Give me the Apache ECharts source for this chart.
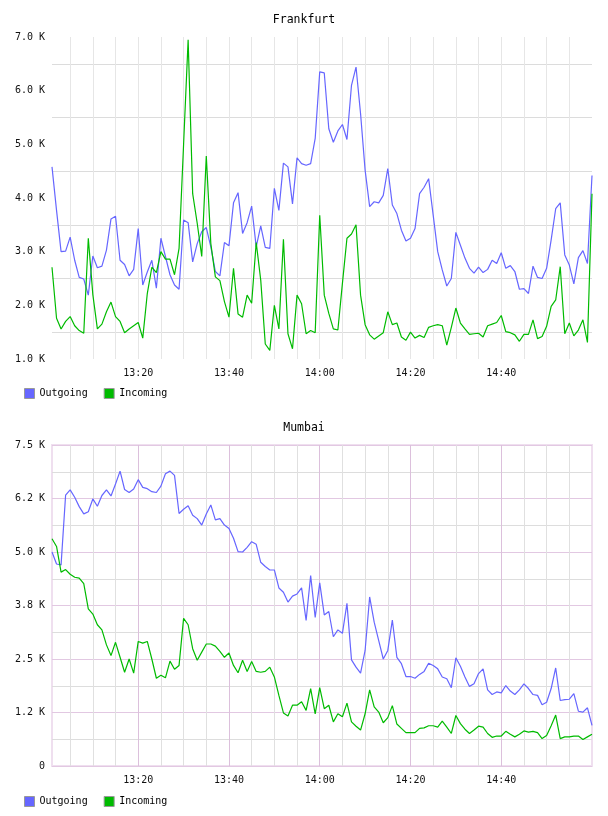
<!DOCTYPE html>
<html>
<head>
<meta charset="utf-8">
<script src="https://cdn.jsdelivr.net/npm/echarts@6.0.0/dist/echarts.min.js"></script>
<style>
  html, body { margin: 0; padding: 0; background: #fff; }
  .chart { width: 608px; height: 408px; }
</style>
</head>
<body>
<div id="frankfurt" class="chart"></div>
<div id="mumbai" class="chart"></div>
<script>
// one point per minute, 13:01 .. 15:00
var firstMinute = 13 * 60 + 1;
var pointCount = 120;
var xLabels = ['13:20', '13:40', '14:00', '14:20', '14:40'];

var frankfurtYLabels = ['1.0 K', '2.0 K', '3.0 K', '4.0 K', '5.0 K', '6.0 K', '7.0 K'];
var mumbaiYLabels = ['0', '1.2 K', '2.5 K', '3.8 K', '5.0 K', '6.2 K', '7.5 K'];

var frankfurtOut = [
  4580, 3770, 3000, 3010, 3270, 2840, 2520, 2490, 2190, 2920,
  2700, 2730, 3030, 3610, 3660, 2840, 2760, 2550, 2670, 3430,
  2380, 2620, 2840, 2320, 3250, 2910, 2570, 2380, 2300, 3590,
  3540, 2810, 3150, 3370, 3450, 3090, 2630, 2550, 3170, 3110,
  3910, 4100, 3340, 3540, 3850, 3090, 3480, 3080, 3060, 4180,
  3770, 4650, 4580, 3890, 4750, 4640, 4610, 4640, 5110, 6350,
  6330, 5290, 5040, 5250, 5370, 5090, 6100, 6440, 5570, 4520,
  3840, 3930, 3910, 4050, 4550, 3870, 3710, 3400, 3200, 3250,
  3430, 4080, 4200, 4360, 3680, 3000, 2660, 2360, 2500, 3360,
  3120, 2880, 2690, 2600, 2710, 2610, 2670, 2840, 2780, 2980,
  2690, 2740, 2630, 2300, 2310, 2220, 2730, 2520, 2500, 2690,
  3220, 3800, 3910, 2940, 2750, 2400, 2890, 3020, 2780, 4420
];
var frankfurtIn = [
  2710, 1760, 1560, 1700, 1790, 1620, 1530, 1480, 3250, 2200,
  1560, 1650, 1880, 2060, 1790, 1700, 1490, 1560, 1620, 1680,
  1390, 2220, 2710, 2610, 3000, 2860, 2860, 2570, 3060, 5000,
  6950, 4080, 3530, 2910, 4780, 3150, 2530, 2460, 2070, 1780,
  2690, 1840, 1780, 2190, 2040, 3170, 2470, 1280, 1160, 2000,
  1560, 3230, 1470, 1190, 2190, 2030, 1470, 1530, 1490, 3680,
  2190, 1850, 1560, 1540, 2410, 3250, 3330, 3500, 2190, 1640,
  1450, 1370, 1430, 1490, 1880, 1640, 1670, 1410, 1350, 1500,
  1390, 1440, 1400, 1590, 1620, 1640, 1620, 1260, 1590, 1950,
  1670, 1560, 1460, 1470, 1480, 1410, 1620, 1650, 1680, 1810,
  1510, 1490, 1450, 1330, 1460, 1460, 1730, 1380, 1420, 1610,
  1980, 2100, 2720, 1470, 1670, 1430, 1540, 1730, 1310, 4080
];
var mumbaiOut = [
  5000, 4720, 4700, 6330, 6450, 6280, 6060, 5890, 5940, 6240,
  6070, 6320, 6450, 6310, 6590, 6890, 6460, 6390, 6470, 6690,
  6510, 6480, 6410, 6390, 6540, 6830, 6890, 6790, 5900, 6000,
  6080, 5860, 5780, 5630, 5890, 6100, 5750, 5780, 5630, 5550,
  5320, 5010, 5000, 5110, 5240, 5180, 4760, 4660, 4580, 4580,
  4160, 4060, 3830, 3970, 4020, 4160, 3400, 4450, 3470, 4280,
  3530, 3610, 3020, 3180, 3100, 3800, 2480, 2310, 2170, 2700,
  3950, 3360, 2930, 2500, 2700, 3410, 2540, 2390, 2090, 2090,
  2050, 2140, 2210, 2400, 2350, 2270, 2080, 2040, 1830, 2530,
  2330, 2080, 1860, 1920, 2160, 2270, 1780, 1670, 1730, 1710,
  1880, 1750, 1670, 1780, 1920, 1810, 1670, 1650, 1430, 1490,
  1810, 2290, 1530, 1550, 1560, 1690, 1280, 1260, 1360, 950
];
var mumbaiIn = [
  5310, 5130, 4530, 4590, 4480, 4410, 4390, 4260, 3670, 3550,
  3300, 3180, 2830, 2580, 2890, 2540, 2190, 2500, 2170, 2910,
  2870, 2910, 2500, 2050, 2120, 2060, 2450, 2260, 2350, 3450,
  3300, 2740, 2470, 2660, 2850, 2850, 2800, 2680, 2540, 2640,
  2350, 2180, 2470, 2210, 2440, 2210, 2190, 2210, 2310, 2080,
  1650, 1240, 1170, 1420, 1420, 1500, 1300, 1810, 1220, 1830,
  1340, 1420, 1030, 1220, 1150, 1470, 1030, 930, 840, 1220,
  1780, 1380, 1260, 1010, 1130, 1410, 980, 880, 780, 780,
  780, 880, 890, 940, 940, 910, 1050, 910, 760, 1180,
  990, 860, 760, 840, 930, 910, 760, 670, 700, 700,
  810, 740, 680, 740, 820, 790, 810, 780, 640, 710,
  940, 1190, 640, 680, 680, 700, 700, 620, 680, 740
];

function pad(n) { return (n < 10 ? '0' : '') + n; }
var times = [];
for (var k = 0; k < pointCount; k++) {
  var m = firstMinute + k;
  times.push(pad(Math.floor(m / 60)) + ':' + pad(m % 60));
}

var font = 'DejaVu Sans Mono';
var blue = '#6666ff';
var green = '#00bb00';

function buildOption(cfg) {
  return {
    animation: false,
    title: {
      text: cfg.title, left: 'center', top: 14, padding: 0,
      textStyle: { fontFamily: font, fontSize: 11.5, fontWeight: 'normal', color: '#000' }
    },
    legend: {
      left: 24, top: 388, padding: 0, icon: 'rect',
      itemWidth: 10, itemHeight: 10, itemGap: 16,
      itemStyle: { borderColor: '#999', borderWidth: 1 },
      textStyle: { fontFamily: font, fontSize: 10, color: '#000' },
      data: ['Outgoing', 'Incoming']
    },
    grid: {
      left: 52, right: 16, top: 37, bottom: cfg.bottom,
      show: !!cfg.border, borderColor: cfg.border || '#fff', borderWidth: 2
    },
    xAxis: {
      type: 'category',
      boundaryGap: false,
      data: times,
      axisLine: { show: false },
      axisTick: { show: false },
      axisLabel: {
        interval: function (i, v) { return xLabels.indexOf(v) >= 0; },
        margin: 9, fontFamily: font, fontSize: 10, color: '#111'
      },
      splitLine: {
        show: true,
        // a line every 5 minutes
        interval: function (i, v) { return i < times.length - 1 && (+v.slice(3)) % 5 === 0; },
        lineStyle: { color: cfg.vColors, width: 1 }
      }
    },
    yAxis: {
      type: 'value',
      min: cfg.yMin, max: cfg.yMax, interval: cfg.yStep / 2,
      axisLine: { show: false },
      axisTick: { show: false },
      axisLabel: {
        formatter: function (v) {
          var idx = (v - cfg.yMin) / cfg.yStep;
          return Math.abs(idx - Math.round(idx)) < 1e-6 ? cfg.yLabels[Math.round(idx)] : '';
        },
        margin: 7, fontFamily: font, fontSize: 10, color: '#111'
      },
      splitLine: { show: true, lineStyle: { color: cfg.hColors, width: 1 } }
    },
    series: [
      {
        name: 'Outgoing', type: 'line', data: cfg.out,
        showSymbol: false, lineStyle: { color: blue, width: 1.2 }, itemStyle: { color: blue }
      },
      {
        name: 'Incoming', type: 'line', data: cfg.inc,
        showSymbol: false, lineStyle: { color: green, width: 1.2 }, itemStyle: { color: green }
      }
    ]
  };
}

var frankfurtChart = echarts.init(document.getElementById('frankfurt'));
frankfurtChart.setOption(buildOption({
  title: 'Frankfurt',
  out: frankfurtOut, inc: frankfurtIn,
  yMin: 1000, yMax: 7000, yStep: 1000, yLabels: frankfurtYLabels,
  bottom: 49,
  hColors: ['rgba(0,0,0,0)', '#dcdcdc'],  // only the half steps get a line
  vColors: ['#e6e6e6']
}));

var mumbaiChart = echarts.init(document.getElementById('mumbai'));
mumbaiChart.setOption(buildOption({
  title: 'Mumbai',
  out: mumbaiOut, inc: mumbaiIn,
  yMin: 0, yMax: 7500, yStep: 1250, yLabels: mumbaiYLabels,
  bottom: 50,
  border: '#efdfef',
  hColors: ['#e2c8e2', '#dddddd'],
  vColors: ['#e0e0e0', '#e0e0e0', '#e0e0e0', '#dcc0dc']
}));
</script>
</body>
</html>
